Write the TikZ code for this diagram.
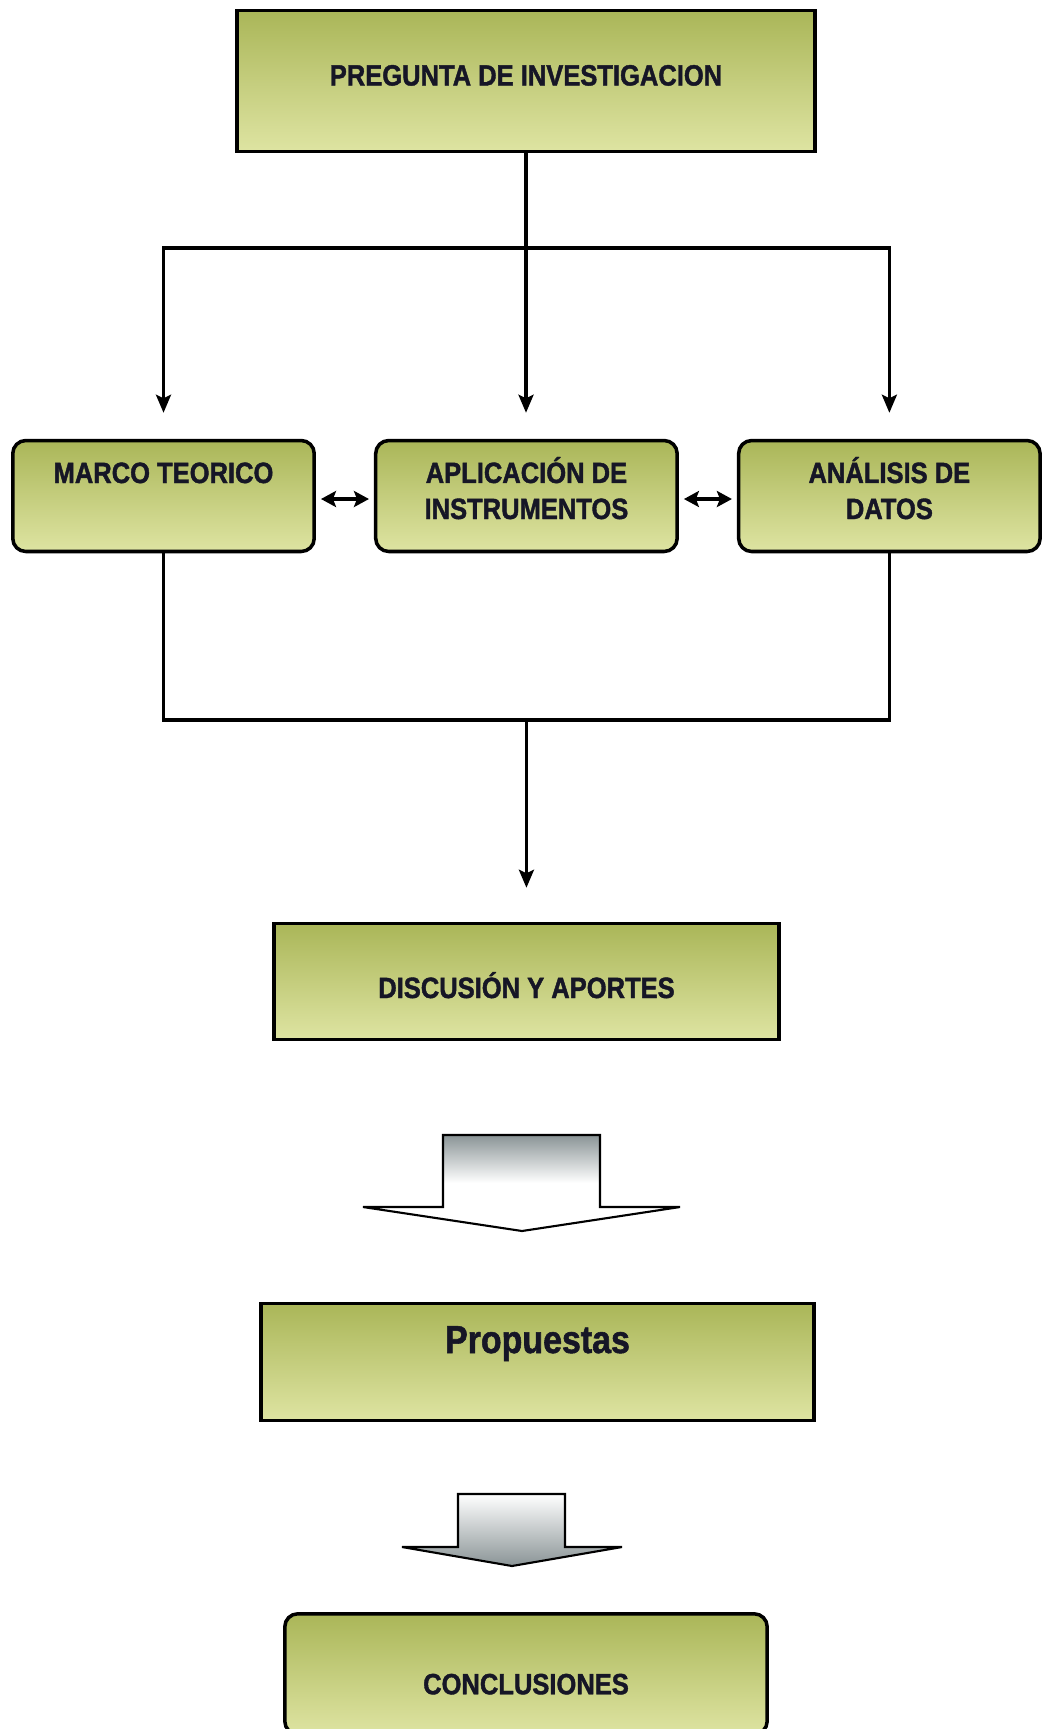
\documentclass[tikz,border=0pt]{standalone}
\usepackage{fontspec}
\newfontfamily\boxfont{Liberation Sans}[FakeStretch=0.87, BoldFeatures={FakeBold=1.4}]
\usepackage{tikz}
\usetikzlibrary{arrows.meta}
\usetikzlibrary{positioning}
\definecolor{boxtop}{RGB}{170,182,88}
\definecolor{boxbot}{RGB}{222,228,162}
\definecolor{inkblue}{RGB}{22,22,38}
\definecolor{arrowgray}{RGB}{138,148,150}

\begin{document}
\begin{tikzpicture}[x=0.02cm, y=-0.02cm,
    greenbox/.style={rectangle, draw=black, line width=2pt, top color=boxtop, bottom color=boxbot, inner sep=0pt, align=center, text=inkblue, font=\boxfont\bfseries\fontsize{16.7}{20.5}\selectfont},
    roundbox/.style={greenbox, rounded corners=0.26cm},
    midbox/.style={roundbox, minimum width=6.03cm, text height=0.85cm, text depth=1.37cm},
    twoline/.style={text height=1.57cm, text depth=0.65cm},
    link/.style={line width=1.9pt},
    flow/.style={link, -{Stealth[length=0.36cm, width=0.3cm, inset=0.07cm]}},
    both/.style={{Stealth[length=0.3cm, width=0.32cm, inset=0.06cm]}-{Stealth[length=0.3cm, width=0.32cm, inset=0.06cm]}, line width=2.3pt, shorten <=0.1cm, shorten >=0.1cm},
    blockarrow/.style={draw=black, line width=1.2pt, line join=miter}]
    \useasboundingbox (0,0) rectangle (1052,1729);

    \node[greenbox, minimum width=11.57cm, text height=1.5cm, text depth=1.32cm] (pregunta) at (526,81) {PREGUNTA DE INVESTIGACION};
    \node[midbox] (marco) at (163.5,496) {MARCO TEORICO};
    \node[midbox, twoline, right=1.16cm of marco] (aplicacion) {APLICACIÓN DE\\INSTRUMENTOS};
    \node[midbox, twoline, right=1.16cm of aplicacion] (analisis) {ANÁLISIS DE\\DATOS};
    \node[greenbox, minimum width=10.11cm, text height=1.49cm, text depth=0.83cm] (discusion) at (526.5,981.5) {DISCUSIÓN Y APORTES};
    \node[greenbox, minimum width=11.07cm, text height=0.99cm, text depth=1.35cm, font=\boxfont\bfseries\fontsize{22.2}{26}\selectfont] (propuestas) at (537.5,1362) {Propuestas};
    \node[roundbox, minimum width=9.65cm, text height=1.61cm, text depth=0.8cm] (conclusiones) at (526,1674) {CONCLUSIONES};

    \coordinate (split) at (pregunta.south |- 0,248);
    \coordinate (join) at (aplicacion.south |- 0,720);

    \draw[link] (pregunta.south) -- (split);
    \draw[flow, shorten >=0.52cm] (split) -| (marco.north);
    \draw[flow, shorten >=0.52cm] (split) -- (split |- aplicacion.north);
    \draw[flow, shorten >=0.52cm] (split) -| (analisis.north);

    \draw[both] ([yshift=-0.06cm]marco.east) -- ([yshift=-0.06cm]aplicacion.west);
    \draw[both] ([yshift=-0.06cm]aplicacion.east) -- ([yshift=-0.06cm]analisis.west);

    \draw[link] (marco.south) |- (join) -| (analisis.south);
    \draw[flow, shorten >=0.68cm] (join) -- (join |- discusion.north);

    \draw[blockarrow, top color=arrowgray, bottom color=white, middle color=white] (443,1135) -- (600,1135) -- (600,1207) -- (680,1207) -- (522,1231) -- (363,1207) -- (443,1207) -- cycle;
    \draw[blockarrow, top color=white, bottom color=arrowgray] (458,1494) -- (565,1494) -- (565,1547) -- (622,1547) -- (512,1566) -- (402,1547) -- (458,1547) -- cycle;
\end{tikzpicture}
\end{document}
